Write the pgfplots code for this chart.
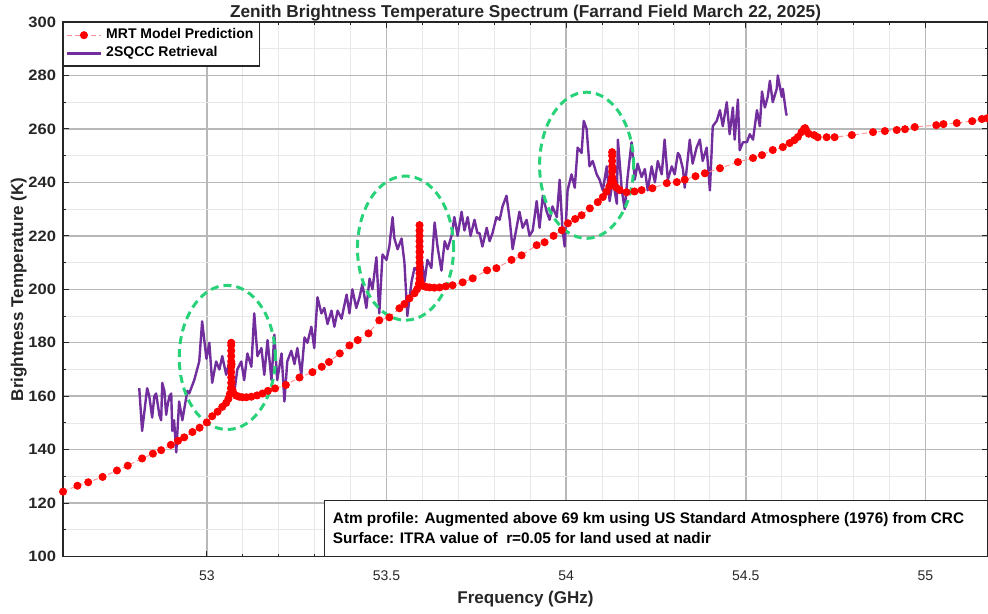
\documentclass[border=0pt]{standalone}
\usepackage{fontspec}
\setmainfont{Liberation Sans}
\usepackage{pgfplots}
\pgfplotsset{compat=1.18}

\definecolor{mrtred}{RGB}{255,0,0}
\definecolor{mrtline}{RGB}{255,150,150}
\definecolor{sqcc}{RGB}{114,46,156}
\definecolor{ringgreen}{RGB}{40,210,120}
\definecolor{axgray}{RGB}{38,38,38}

\begin{document}
\begin{tikzpicture}
\pgfplotsset{
  every axis title/.style={at={(0.5,1)}, anchor=base, yshift=2.5pt,
    font=\bfseries\fontsize{8.6}{9.5}\selectfont, text=axgray},
}
\begin{axis}[
  scale only axis,
  width=462pt, height=267pt,
  xmin=52.6, xmax=55.174, ymin=100, ymax=300,
  xtick={53,53.5,54,54.5,55},
  ytick={100,120,...,300},
  minor x tick num=4, minor y tick num=1,
  grid=both,
  major grid style={line width=0.7pt, color=black!28},
  minor grid style={line width=0.4pt, color=black!9},
  axis line style={axgray, line width=0.6pt},
  tick style={axgray, line width=0.5pt},
  major tick length=3pt, minor tick length=1.5pt,
  /pgf/number format/assume math mode=true,
  tick label style={font=\fontsize{7}{8}\selectfont, text=axgray},
  yticklabel style={font=\bfseries\fontsize{7.5}{8}\selectfont\addfontfeature{FakeStretch=1.1}},
  xticklabel style={anchor=base, yshift=-12pt},
  title={Zenith Brightness Temperature Spectrum (Farrand Field March 22, 2025)},
  xlabel={Frequency (GHz)},
  ylabel={Brightness Temperature (K)},
  label style={font=\bfseries\fontsize{8.5}{9.5}\selectfont, text=axgray},
  xlabel style={at={(axis description cs:0.5,0)}, anchor=base, yshift=-23.5pt},
  ylabel style={at={(axis description cs:-0.0433,0.5)}, anchor=base},
  legend style={at={(0,1)}, anchor=north west, draw=axgray, line width=0.6pt,
    font=\bfseries\fontsize{7}{8.5}\selectfont, inner sep=1pt, row sep=-1.5pt,
    fill=white},
  legend cell align=left,
  reverse legend,
  clip=false,
]

% 2SQCC retrieval
\addplot[sqcc, line width=1.2pt, line join=round] coordinates {
(52.812,163)(52.820,147)(52.834,163)(52.840,160)(52.848,152)(52.854,160)
(52.859,161)(52.868,153)(52.873,151)(52.876,165)(52.882,162)(52.887,153)
(52.890,156)(52.896,160)(52.901,161)(52.904,147)(52.909,151)(52.915,139)
(52.923,158)(52.932,151)(52.937,155)(52.946,162)(52.951,161)(52.965,166)
(52.979,173)(52.987,188)(52.999,174)(53.007,180)(53.015,165)(53.026,173)
(53.035,170)(53.043,175)(53.054,168)(53.063,173)(53.077,162)(53.085,170)
(53.096,173)(53.104,166)(53.113,176)(53.124,171)(53.132,191)(53.141,175)
(53.152,178)(53.160,168)(53.169,181)(53.180,166)(53.188,183)(53.196,166)
(53.208,176)(53.216,158)(53.224,173)(53.235,177)(53.244,172)(53.252,178)
(53.263,168)(53.272,182)(53.280,180)(53.291,186)(53.299,178)(53.308,197)
(53.319,191)(53.327,193)(53.336,187)(53.347,192)(53.355,186)(53.364,192)
(53.375,189)(53.389,198)(53.397,191)(53.405,200)(53.416,193)(53.425,197)
(53.433,202)(53.444,193)(53.453,204)(53.461,200)(53.472,212)(53.480,191)
(53.489,213)(53.500,211)(53.508,216)(53.517,227)(53.522,219)(53.531,215)
(53.542,219)(53.550,210)(53.558,190)(53.570,203)(53.578,208)(53.586,207)
(53.597,212)(53.606,203)(53.614,211)(53.625,208)(53.634,225)(53.642,216)
(53.653,207)(53.662,218)(53.670,215)(53.681,220)(53.689,227)(53.698,220)
(53.709,229)(53.717,222)(53.726,227)(53.734,220)(53.745,226)(53.753,221)
(53.759,221)(53.767,216)(53.779,223)(53.787,218)(53.795,221)(53.806,227)
(53.815,226)(53.823,231)(53.834,235)(53.843,226)(53.851,215)(53.862,223)
(53.870,229)(53.879,223)(53.890,226)(53.898,220)(53.907,222)(53.918,233)
(53.926,223)(53.935,235)(53.946,229)(53.954,226)(53.962,231)(53.974,227)
(53.982,241)(53.990,222)(53.996,216)(54.004,237)(54.015,243)(54.024,238)
(54.032,253)(54.043,251)(54.049,263)(54.057,260)(54.065,246)(54.074,248)
(54.085,243)(54.093,241)(54.102,237)(54.113,246)(54.121,233)(54.130,241)
(54.141,232)(54.144,256)(54.155,237)(54.163,230)(54.171,242)(54.182,255)
(54.191,241)(54.199,247)(54.210,242)(54.219,245)(54.227,237)(54.238,246)
(54.247,240)(54.255,248)(54.266,243)(54.274,256)(54.283,241)(54.294,246)
(54.302,243)(54.311,251)(54.316,250)(54.325,245)(54.330,238)(54.344,256)
(54.352,247)(54.363,253)(54.372,256)(54.380,248)(54.391,253)(54.400,237)
(54.408,261)(54.419,263)(54.428,267)(54.436,261)(54.447,270)(54.455,258)
(54.464,268)(54.469,256)(54.478,271)(54.483,252)(54.492,255)(54.503,255)
(54.511,258)(54.520,256)(54.531,267)(54.539,261)(54.545,274)(54.553,268)
(54.561,272)(54.567,278)(54.575,270)(54.586,275)(54.589,280)(54.600,272)
(54.603,275)(54.612,266)(54.614,265)
};
\addlegendentry{2SQCC Retrieval}

% MRT model prediction
\addplot[mrtline, line width=0.5pt, dash pattern=on 2.5pt off 1.5pt,
  mark=*, mark size=1.75pt,
  mark options={solid, draw=mrtred, fill=mrtred}] coordinates {
(52.600,124.3)(52.640,126.5)(52.670,127.8)(52.710,129.8)(52.750,132.2)
(52.780,134.0)(52.820,136.7)(52.850,138.5)(52.873,139.8)(52.900,141.8)
(52.920,143.3)(52.937,144.6)(52.960,146.6)(52.980,148.2)(53.000,150.2)
(53.015,152.5)(53.030,154.2)(53.043,156.0)(53.054,157.5)(53.060,159.0)
(53.064,160.8)(53.067,163.0)
(53.068,165)(53.068,167)(53.068,169)(53.068,171)(53.068,173)(53.068,175)
(53.068,177)(53.068,179)(53.068,180)(53.069,172)(53.069,165)
(53.071,162.5)(53.075,161.0)(53.082,160.2)(53.090,159.8)(53.099,159.6)
(53.110,159.6)(53.124,159.8)(53.140,160.3)(53.155,161.0)(53.170,162.0)
(53.190,162.9)(53.220,164.2)(53.258,167.0)(53.294,169.0)(53.320,171.0)
(53.340,172.8)(53.370,176.0)(53.397,179.0)(53.420,181.0)(53.450,183.5)
(53.480,188.4)(53.508,189.5)(53.536,192.9)(53.550,194.5)(53.564,196.6)
(53.578,198.5)(53.585,200.0)(53.590,202.0)
(53.592,204)(53.592,206)(53.592,208)(53.592,210)(53.592,212)(53.592,214)
(53.592,216)(53.592,218)(53.592,220)(53.592,222)(53.592,224)
(53.593,214)(53.593,204)
(53.596,202.2)(53.602,201.3)(53.610,200.9)(53.620,200.7)(53.633,200.6)
(53.648,200.7)(53.665,201.1)(53.684,201.5)(53.712,202.6)(53.740,204.1)
(53.780,207.1)(53.806,207.9)(53.848,211.0)(53.876,212.7)(53.918,216.5)
(53.940,217.6)(53.965,220.0)(53.988,222.1)(54.005,224.7)(54.025,226.3)
(54.043,227.7)(54.066,230.3)(54.088,232.6)(54.102,234.5)(54.112,236.5)
(54.120,238.5)(54.126,240.5)
(54.128,242)(54.128,244)(54.128,246)(54.128,248)(54.128,250)(54.128,251.3)
(54.129,245)(54.130,240.5)
(54.133,239.3)(54.140,238.0)(54.149,237.1)(54.168,236.3)(54.190,236.6)
(54.210,237.1)(54.240,237.8)(54.280,239.7)(54.308,240.1)(54.330,241.0)
(54.360,242.3)(54.386,243.4)(54.428,245.3)(54.478,247.6)(54.520,249.1)
(54.545,250.2)(54.575,252.1)(54.603,253.2)(54.622,254.7)(54.635,255.8)
(54.645,257.0)(54.655,258.8)(54.662,260.0)(54.665,260.3)(54.668,259.5)
(54.675,258.2)(54.690,257.7)(54.700,256.9)(54.725,256.9)(54.747,256.9)
(54.795,257.7)(54.854,258.8)(54.887,259.2)(54.920,259.6)(54.943,259.9)
(54.970,260.7)(55.030,261.4)(55.050,261.8)(55.087,262.2)(55.130,262.9)
(55.157,263.7)(55.172,264.0)
};
\addlegendentry{MRT Model Prediction}

% highlighted absorption lines
\draw[ringgreen, line width=1.5pt, dash pattern=on 4pt off 2.5pt]
  (axis cs:53.057,174.5) ellipse [x radius=24pt, y radius=36pt];
\draw[ringgreen, line width=1.5pt, dash pattern=on 4pt off 2.5pt]
  (axis cs:53.553,215.4) ellipse [x radius=24pt, y radius=36pt];
\draw[ringgreen, line width=1.5pt, dash pattern=on 4pt off 2.5pt]
  (axis cs:54.057,246.4) ellipse [x radius=23.5pt, y radius=36.5pt];

% model notes
\draw[fill=white, draw=axgray, line width=0.6pt]
  (axis cs:53.327,100) rectangle (axis cs:55.174,121);
\node[anchor=base west, inner sep=0pt, font=\bfseries\fontsize{7.65}{8}\selectfont]
  at (axis cs:53.350,112.4)
  {Atm profile: Augmented above 69 km using US Standard Atmosphere (1976) from CRC};
\node[anchor=base west, inner sep=0pt, font=\bfseries\fontsize{7.65}{8}\selectfont]
  at (axis cs:53.350,104.9)
  {Surface: ITRA value of\ \ r=0.05 for land used at nadir};

\coordinate (sw) at (rel axis cs:0,0);
\coordinate (ne) at (rel axis cs:1,1);
\end{axis}
\pgfresetboundingbox
\path ([xshift=-31.5pt, yshift=-28.5pt]sw) rectangle ([yshift=11pt]ne);
\end{tikzpicture}
\end{document}
